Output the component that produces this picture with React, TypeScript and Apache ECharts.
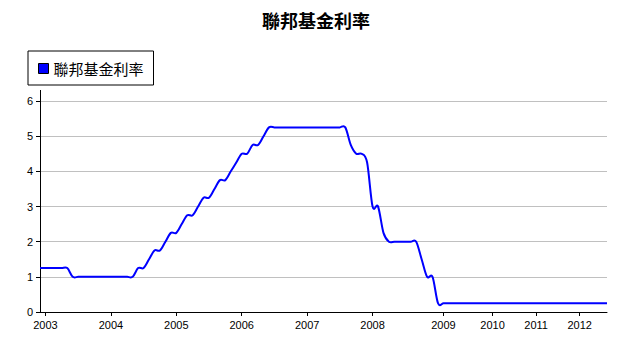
import React, { useEffect, useRef } from "react";
import * as echarts from "echarts";

const TITLE = "聯邦基金利率";
const SERIES_NAME = "聯邦基金利率";

// number of data points falling in each year (first point is Dec 2002)
const years = ["2002", "2003", "2004", "2005", "2006", "2007", "2008", "2009", "2010", "2011", "2012"];
const pointsPerYear = [1, 12, 12, 12, 12, 12, 13, 9, 8, 8, 6];

// federal funds target rate (%) per point
const rates = [
  // 2002-12
  1.25,
  // 2003
  1.25, 1.25, 1.25, 1.25, 1.25, 1.0, 1.0, 1.0, 1.0, 1.0, 1.0, 1.0,
  // 2004
  1.0, 1.0, 1.0, 1.0, 1.0, 1.25, 1.25, 1.5, 1.75, 1.75, 2.0, 2.25,
  // 2005
  2.25, 2.5, 2.75, 2.75, 3.0, 3.25, 3.25, 3.5, 3.75, 3.75, 4.0, 4.25,
  // 2006
  4.5, 4.5, 4.75, 4.75, 5.0, 5.25, 5.25, 5.25, 5.25, 5.25, 5.25, 5.25,
  // 2007
  5.25, 5.25, 5.25, 5.25, 5.25, 5.25, 5.25, 5.25, 4.75, 4.5, 4.5, 4.25,
  // 2008
  3.0, 3.0, 2.25, 2.0, 2.0, 2.0, 2.0, 2.0, 2.0, 1.5, 1.0, 1.0, 0.25,
  // 2009
  0.25, 0.25, 0.25, 0.25, 0.25, 0.25, 0.25, 0.25, 0.25,
  // 2010
  0.25, 0.25, 0.25, 0.25, 0.25, 0.25, 0.25, 0.25,
  // 2011
  0.25, 0.25, 0.25, 0.25, 0.25, 0.25, 0.25, 0.25,
  // 2012
  0.25, 0.25, 0.25, 0.25, 0.25, 0.25,
];

const yTicks = [0, 1, 2, 3, 4, 5, 6];

const categories: string[] = [];
years.forEach((y, i) => {
  for (let k = 0; k < pointsPerYear[i]; k++) categories.push(y);
});

const isYearStart = (i: number) => i > 0 && categories[i] !== categories[i - 1];

const FONT = "'Liberation Sans', Arial, 'Noto Sans CJK TC', sans-serif";
const CJK = "'Noto Sans CJK TC', 'Noto Sans CJK SC', sans-serif";

// Catmull-Rom spline through the points, as the original chart draws it
function renderSpline(params: any, api: any) {
  if (params.dataIndex !== 0) return null;
  const pts = rates.map((v, i) => api.coord([i, v]));
  const n = pts.length;
  let d = `M${pts[0][0]},${pts[0][1]}`;
  for (let i = 0; i < n - 1; i++) {
    const p0 = pts[Math.max(i - 1, 0)];
    const p1 = pts[i];
    const p2 = pts[i + 1];
    const p3 = pts[Math.min(i + 2, n - 1)];
    const c1x = p1[0] + (p2[0] - p0[0]) / 6;
    const c1y = p1[1] + (p2[1] - p0[1]) / 6;
    const c2x = p2[0] - (p3[0] - p1[0]) / 6;
    const c2y = p2[1] - (p3[1] - p1[1]) / 6;
    d += ` C${c1x},${c1y} ${c2x},${c2y} ${p2[0]},${p2[1]}`;
  }
  return {
    type: "path",
    shape: { pathData: d },
    style: { stroke: "#0000ff", lineWidth: 2, fill: "none" },
  };
}

export default function App() {
  const ref = useRef<HTMLDivElement>(null);
  useEffect(() => {
    if (!ref.current) return;
    const chart = echarts.init(ref.current, undefined, { renderer: "svg" });
    chart.setOption({
      animation: false,
      backgroundColor: "#ffffff",
      title: {
        text: TITLE,
        left: 262,
        top: 11,
        padding: 0,
        textStyle: { fontFamily: CJK, fontSize: 18, fontWeight: "bold", color: "#000" },
      },
      legend: {
        left: 28,
        top: 51,
        orient: "horizontal",
        padding: [10, 10, 9, 10],
        borderColor: "#000",
        borderWidth: 1,
        borderRadius: 0,
        itemWidth: 10,
        itemHeight: 10,
        textStyle: { fontFamily: CJK, fontSize: 15, color: "#000" },
        data: [
          {
            name: SERIES_NAME,
            icon: "rect",
            itemStyle: { color: "#0000ff", borderColor: "#000", borderWidth: 1 },
          },
        ],
      },
      grid: { left: 40, right: 17, top: 101, bottom: 27, containLabel: false },
      xAxis: {
        type: "category",
        data: categories,
        boundaryGap: false,
        axisLine: { show: true, lineStyle: { color: "#000", width: 1 } },
        axisTick: {
          show: true,
          length: 4,
          interval: (i: number) => isYearStart(i),
          lineStyle: { color: "#000" },
        },
        axisLabel: {
          interval: (i: number) => isYearStart(i),
          fontFamily: FONT,
          fontSize: 11,
          color: "#000",
          margin: 7,
        },
        splitLine: { show: false },
      },
      yAxis: {
        type: "value",
        min: yTicks[0],
        max: yTicks[yTicks.length - 1],
        interval: 1,
        axisLine: { show: true, lineStyle: { color: "#000", width: 1 } },
        axisTick: { show: true, length: 4, lineStyle: { color: "#000" } },
        axisLabel: { fontFamily: FONT, fontSize: 11, color: "#000", margin: 7 },
        splitLine: { show: true, lineStyle: { color: "#c0c0c0", width: 1 } },
      },
      graphic: [
        {
          type: "line",
          shape: { x1: 40.5, y1: 90, x2: 40.5, y2: 101 },
          style: { stroke: "#000", lineWidth: 1 },
        },
      ],
      series: [
        {
          name: SERIES_NAME,
          type: "custom",
          data: rates.map((v, i) => [i, v]),
          encode: { x: 0, y: 1 },
          renderItem: renderSpline,
          itemStyle: { color: "#0000ff" },
          z: 3,
        },
      ],
    });
    return () => chart.dispose();
  }, []);
  return (
    <div
      ref={ref}
      style={{ position: "absolute", left: 0, top: 0, width: 624, height: 339 }}
    />
  );
}
